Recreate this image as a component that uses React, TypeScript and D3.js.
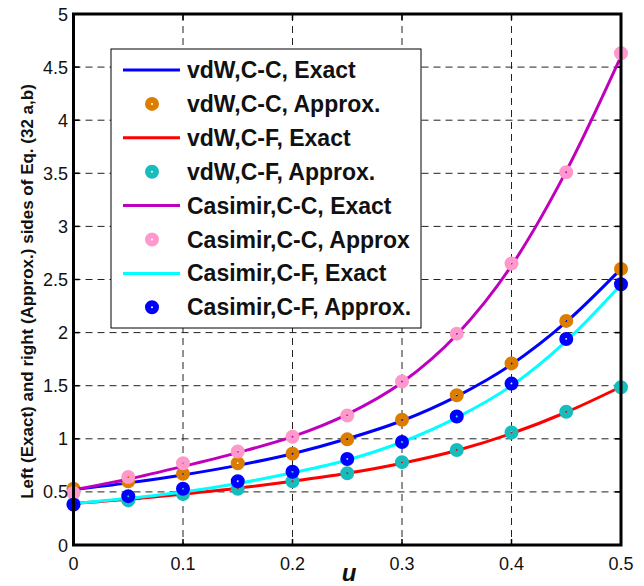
import React from "react";
import * as d3 from "d3";

const uValues = [0, 0.05, 0.1, 0.15, 0.2, 0.25, 0.3, 0.35, 0.4, 0.45, 0.5];

// Exact curves
const vdwCCExact = [0.52, 0.585, 0.66, 0.75, 0.86, 1.0, 1.17, 1.4, 1.7, 2.1, 2.6];
const vdwCFExact = [0.39, 0.43, 0.48, 0.535, 0.6, 0.675, 0.77, 0.89, 1.05, 1.25, 1.49];
const casCCExact = [0.52, 0.62, 0.74, 0.87, 1.02, 1.23, 1.53, 1.98, 2.63, 3.52, 4.6];
const casCFExact = [0.39, 0.44, 0.5, 0.58, 0.68, 0.8, 0.97, 1.2, 1.5, 1.92, 2.45];

// Approximations (markers)
const vdwCCApprox = [0.53, 0.6, 0.67, 0.77, 0.86, 0.995, 1.18, 1.41, 1.71, 2.11, 2.6];
const vdwCFApprox = [0.39, 0.42, 0.48, 0.53, 0.6, 0.675, 0.78, 0.895, 1.06, 1.255, 1.485];
const casCCApprox = [0.49, 0.64, 0.77, 0.88, 1.02, 1.22, 1.54, 1.99, 2.65, 3.51, 4.63];
const casCFApprox = [0.38, 0.46, 0.53, 0.6, 0.69, 0.81, 0.97, 1.21, 1.52, 1.94, 2.455];

const xTicks = [0, 0.1, 0.2, 0.3, 0.4, 0.5];
const yTicks = [0, 0.5, 1, 1.5, 2, 2.5, 3, 3.5, 4, 4.5, 5];

type Series = { name: string; kind: "line" | "marker"; values: number[]; color: string };

const series: Series[] = [
  { name: "vdW,C-C, Exact", kind: "line", values: vdwCCExact, color: "#0000ff" },
  { name: "vdW,C-C, Approx.", kind: "marker", values: vdwCCApprox, color: "#dc7d00" },
  { name: "vdW,C-F, Exact", kind: "line", values: vdwCFExact, color: "#ff0000" },
  { name: "vdW,C-F, Approx.", kind: "marker", values: vdwCFApprox, color: "#17bdbd" },
  { name: "Casimir,C-C, Exact", kind: "line", values: casCCExact, color: "#bf00bf" },
  { name: "Casimir,C-C, Approx", kind: "marker", values: casCCApprox, color: "#ff99cc" },
  { name: "Casimir,C-F, Exact", kind: "line", values: casCFExact, color: "#00ffff" },
  { name: "Casimir,C-F, Approx.", kind: "marker", values: casCFApprox, color: "#0000ff" },
];

const fmt = (v: number) => String(v);

export default function App() {
  const left = 73.5, right = 621, top = 14, bottom = 545;
  const x = d3.scaleLinear().domain([0, 0.5]).range([left, right]);
  const y = d3.scaleLinear().domain([0, 5]).range([bottom, top]);
  const line = d3
    .line<number>()
    .x((_, i) => x(uValues[i]))
    .y((d) => y(d))
    .curve(d3.curveMonotoneX);

  const font = "Liberation Sans, Arial, Helvetica, sans-serif";
  const legendX = 111, legendY = 49, legendW = 310, legendH = 279;
  const rowY0 = 70, rowStep = 33.9;

  return (
    <svg
      width={644}
      height={586}
      style={{ position: "absolute", left: 0, top: 0, display: "block", background: "#fff" }}
      fontFamily={font}
    >
      <rect x={0} y={0} width={644} height={586} fill="#fff" />
      {/* grid */}
      <g stroke="#222" strokeWidth={1} strokeDasharray="7,5">
        {xTicks.slice(1, -1).map((t) => (
          <line key={"gx" + t} x1={x(t)} x2={x(t)} y1={top} y2={bottom} />
        ))}
        {yTicks.slice(1, -1).map((t) => (
          <line key={"gy" + t} x1={left} x2={right} y1={y(t)} y2={y(t)} />
        ))}
      </g>
      {/* ticks */}
      <g stroke="#000" strokeWidth={1.5}>
        {xTicks.map((t) => (
          <g key={"tx" + t}>
            <line x1={x(t)} x2={x(t)} y1={bottom} y2={bottom - 6} />
            <line x1={x(t)} x2={x(t)} y1={top} y2={top + 6} />
          </g>
        ))}
        {yTicks.map((t) => (
          <g key={"ty" + t}>
            <line x1={left} x2={left + 6} y1={y(t)} y2={y(t)} />
            <line x1={right} x2={right - 6} y1={y(t)} y2={y(t)} />
          </g>
        ))}
      </g>
      {/* data */}
      {series.map((s) =>
        s.kind === "line" ? (
          <path key={s.name} d={line(s.values) || ""} fill="none" stroke={s.color} strokeWidth={3} />
        ) : (
          <g key={s.name}>
            {s.values.map((v, i) => (
              <circle key={i} cx={x(uValues[i])} cy={y(v)} r={4} fill="none" stroke={s.color} strokeWidth={6} />
            ))}
          </g>
        )
      )}
      {/* frame */}
      <rect x={left} y={top} width={right - left} height={bottom - top} fill="none" stroke="#000" strokeWidth={3} />
      {/* tick labels */}
      <g fontSize={18} fill="#111">
        {xTicks.map((t) => (
          <text key={"lx" + t} x={x(t)} y={570} textAnchor="middle">
            {fmt(t)}
          </text>
        ))}
        {yTicks.map((t) => (
          <text key={"ly" + t} x={68} y={y(t) + 6.5} textAnchor="end">
            {fmt(t)}
          </text>
        ))}
      </g>
      {/* axis labels */}
      <text x={349} y={581} fontSize={24} fontWeight="bold" fontStyle="italic" textAnchor="middle" fill="#111">
        u
      </text>
      <text
        transform={`translate(33, ${(top + bottom) / 2 + 12}) rotate(-90)`}
        fontSize={17}
        fontWeight="bold"
        textAnchor="middle"
        fill="#111"
      >
        Left (Exact) and right (Approx.) sides of Eq. (32 a,b)
      </text>
      {/* legend */}
      <rect x={legendX} y={legendY} width={legendW} height={legendH} fill="#fff" stroke="#000" strokeWidth={1} />
      {series.map((s, i) => {
        const cy = rowY0 + i * rowStep;
        return (
          <g key={"lg" + s.name}>
            {s.kind === "line" ? (
              <line x1={123} x2={180} y1={cy} y2={cy} stroke={s.color} strokeWidth={3} />
            ) : (
              <circle cx={152} cy={cy} r={4} fill="none" stroke={s.color} strokeWidth={6} />
            )}
            <text x={187} y={cy + 8} fontSize={23} fontWeight="bold" fill="#111">
              {s.name}
            </text>
          </g>
        );
      })}
    </svg>
  );
}
